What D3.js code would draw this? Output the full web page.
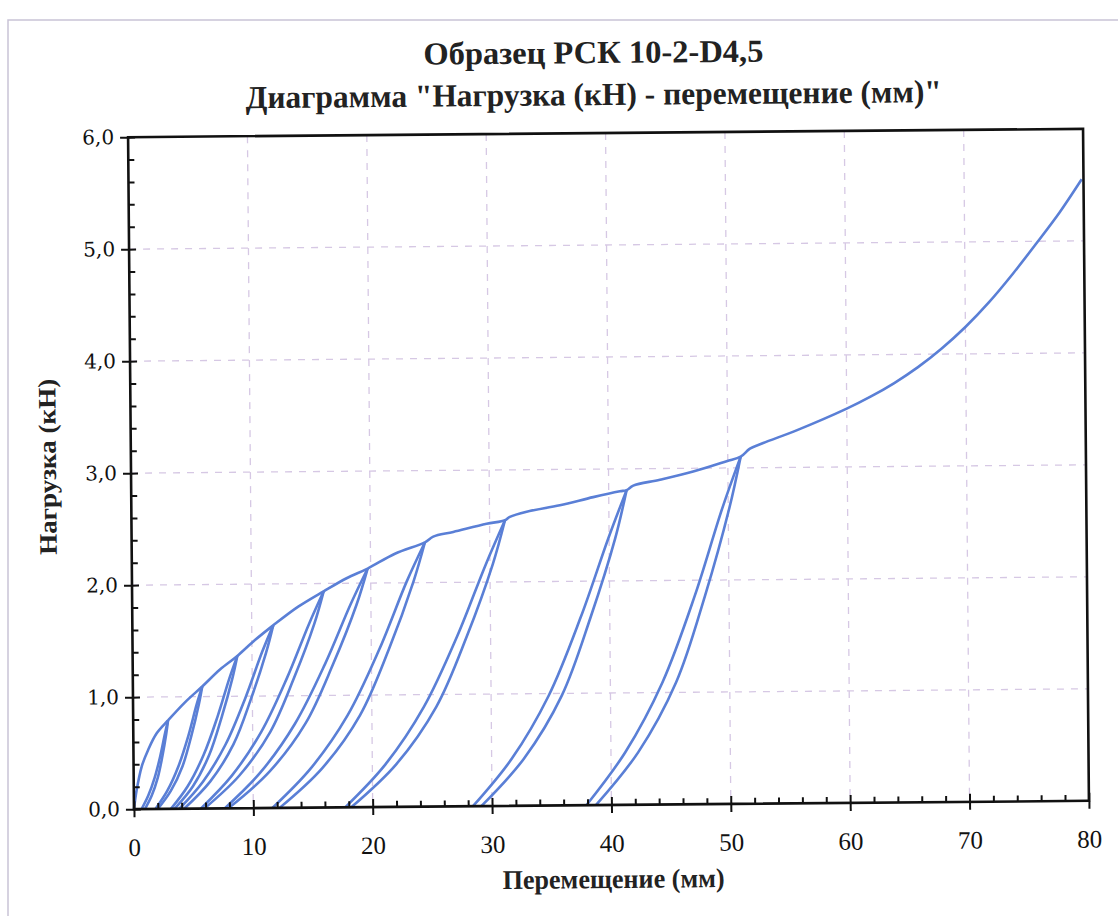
<!DOCTYPE html>
<html>
<head>
<meta charset="utf-8">
<script src="https://cdn.jsdelivr.net/npm/d3@7"></script>
<style>
  body { margin: 0; background: #fff; }
  svg { display: block; }
</style>
</head>
<body>
<svg width="1118" height="916"></svg>
<script>
const titleLines = ["Образец РСК 10-2-D4,5", "Диаграмма \"Нагрузка (кН) - перемещение (мм)\""];
const xLabel = "Перемещение (мм)";
const yLabel = "Нагрузка (кН)";
const xTicks = [0, 10, 20, 30, 40, 50, 60, 70, 80];
const yTicks = [0, 1, 2, 3, 4, 5, 6];

// envelope of the test (first loading and the parts between cycles)
const envelope = [
  [0, 0], [0.24, 0.17], [0.68, 0.38], [1.24, 0.53], [1.96, 0.675], [2.92, 0.79],
  [4.35, 0.95], [5.81, 1.09], [7.31, 1.24], [8.77, 1.36], [10.26, 1.5], [11.8, 1.63],
  [13.91, 1.795], [16.05, 1.93], [17.98, 2.045], [19.75, 2.13], [22.05, 2.26], [24.57, 2.36],
  [25.27, 2.41], [26.95, 2.45], [29.75, 2.52], [31.29, 2.55], [31.7, 2.58], [33.11, 2.625],
  [35.9, 2.68], [38.7, 2.75], [40.94, 2.8], [41.5, 2.81], [42.06, 2.85], [44.3, 2.9],
  [47.09, 2.97], [49.9, 3.06], [51.08, 3.1], [51.86, 3.17], [52.98, 3.22], [55.78, 3.33],
  [60, 3.52], [62, 3.625], [64, 3.745], [66, 3.885], [68, 4.05], [70, 4.24],
  [72, 4.46], [74, 4.71], [76, 4.98], [78, 5.26], [79.85, 5.55]
];

// unloading / reloading branches of each cycle (left and right side of every loop)
const loopLeft = [
  [[0.64, 0], [1.21, 0.12], [1.76, 0.28], [2.24, 0.47], [2.65, 0.67], [2.92, 0.79]],
  [[1.8, 0], [2.8, 0.16], [3.76, 0.38], [4.61, 0.65], [5.33, 0.93], [5.81, 1.09]],
  [[3.1, 0], [4.52, 0.2], [5.88, 0.48], [7.07, 0.82], [8.09, 1.16], [8.77, 1.36]],
  [[3.8, 0], [5.8, 0.24], [7.72, 0.57], [9.4, 0.98], [10.84, 1.39], [11.8, 1.63]],
  [[5.6, 0], [8.21, 0.29], [10.72, 0.68], [12.92, 1.16], [14.8, 1.64], [16.05, 1.93]],
  [[7.6, 0], [10.64, 0.32], [13.55, 0.75], [16.11, 1.28], [18.29, 1.81], [19.75, 2.13]],
  [[11.6, 0], [14.84, 0.35], [17.96, 0.82], [20.68, 1.41], [23.01, 2.01], [24.57, 2.36]],
  [[17.7, 0], [21.1, 0.38], [24.36, 0.89], [27.21, 1.52], [29.66, 2.16], [31.29, 2.55]],
  [[28.4, 0], [31.68, 0.42], [34.82, 0.98], [37.57, 1.68], [39.93, 2.38], [41.5, 2.81]],
  [[37.9, 0], [41.2, 0.47], [44.36, 1.09], [47.13, 1.86], [49.5, 2.64], [51.08, 3.1]]
];
const loopRight = [
  [[0.92, 0], [1.5, 0.12], [2.02, 0.28], [2.42, 0.47], [2.76, 0.67], [2.92, 0.79]],
  [[2.0, 0], [3.1, 0.16], [4.1, 0.38], [4.86, 0.65], [5.51, 0.93], [5.81, 1.09]],
  [[3.4, 0], [4.96, 0.2], [6.35, 0.48], [7.43, 0.82], [8.34, 1.16], [8.77, 1.36]],
  [[4.2, 0], [6.4, 0.24], [8.38, 0.57], [9.9, 0.98], [11.19, 1.39], [11.8, 1.63]],
  [[5.9, 0], [8.84, 0.29], [11.48, 0.68], [13.51, 1.16], [15.24, 1.64], [16.05, 1.93]],
  [[7.9, 0], [11.34, 0.32], [14.42, 0.75], [16.79, 1.28], [18.8, 1.81], [19.75, 2.13]],
  [[12.2, 0], [15.79, 0.35], [19.0, 0.82], [21.48, 1.41], [23.58, 2.01], [24.57, 2.36]],
  [[18.2, 0], [22.0, 0.38], [25.4, 0.89], [28.02, 1.52], [30.24, 2.16], [31.29, 2.55]],
  [[29.1, 0], [32.7, 0.42], [35.92, 0.98], [38.4, 1.68], [40.51, 2.38], [41.5, 2.81]],
  [[38.7, 0], [42.29, 0.47], [45.51, 1.09], [47.99, 1.86], [50.09, 2.64], [51.08, 3.1]]
];

const svg = d3.select("svg");
const plotLeft = 131, plotRight = 1086, plotTop = 133, plotBottom = 805;
const serif = "'Liberation Serif', 'Times New Roman', serif";

// light frame of the scanned page
svg.append("path")
  .attr("d", "M8,916 L8,20 L1118,20")
  .attr("fill", "none")
  .attr("stroke", "#c9c3d6")
  .attr("stroke-width", 1.5);

// the scan is a little tilted
const g = svg.append("g").attr("transform", "rotate(-0.5, 608, 469)");

const x = d3.scaleLinear().domain([0, 80]).range([plotLeft, plotRight]);
const y = d3.scaleLinear().domain([0, 6]).range([plotBottom, plotTop]);

// grid
const gridColor = "#d6c8e4";
g.append("g").selectAll("line")
  .data(xTicks.slice(1, -1))
  .enter().append("line")
  .attr("x1", d => x(d)).attr("x2", d => x(d))
  .attr("y1", plotTop).attr("y2", plotBottom)
  .attr("stroke", gridColor).attr("stroke-width", 1.3).attr("stroke-dasharray", "7,7");
g.append("g").selectAll("line")
  .data(yTicks.slice(1, -1))
  .enter().append("line")
  .attr("y1", d => y(d)).attr("y2", d => y(d))
  .attr("x1", plotLeft).attr("x2", plotRight)
  .attr("stroke", gridColor).attr("stroke-width", 1.3).attr("stroke-dasharray", "7,7");

// curves
const line = d3.line()
  .x(d => x(d[0]))
  .y(d => y(d[1]))
  .curve(d3.curveCatmullRom.alpha(0.5));

const curves = g.append("g")
  .attr("fill", "none")
  .attr("stroke", "#5a7fd6")
  .attr("stroke-width", 2.6)
  .attr("stroke-linejoin", "round");

loopLeft.concat(loopRight).forEach(branch => {
  curves.append("path").attr("d", line(branch));
});
curves.append("path").attr("d", line(envelope));

// axes
const xMinor = d3.range(0, 81, 2).filter(v => v % 10 !== 0);
const yMinor = d3.range(0, 6.01, 0.2).map(v => +v.toFixed(1)).filter(v => Math.abs(v - Math.round(v)) > 0.01);

const xAxis = g.append("g").attr("transform", `translate(0,${plotBottom})`)
  .call(d3.axisBottom(x).tickValues(xTicks).tickSize(8).tickPadding(21).tickFormat(d3.format("d")));
g.append("g").attr("transform", `translate(0,${plotBottom})`)
  .call(d3.axisBottom(x).tickValues(xTicks).tickSize(-8).tickFormat(""));
g.append("g").attr("transform", `translate(0,${plotBottom})`)
  .call(d3.axisBottom(x).tickValues(xMinor).tickSize(-6).tickFormat(""));

const yAxis = g.append("g").attr("transform", `translate(${plotLeft},0)`)
  .call(d3.axisLeft(y).tickValues(yTicks).tickSize(8).tickPadding(6)
    .tickFormat(d => d.toFixed(1).replace(".", ",")));
g.append("g").attr("transform", `translate(${plotLeft},0)`)
  .call(d3.axisLeft(y).tickValues(yTicks).tickSize(-7).tickFormat(""));
g.append("g").attr("transform", `translate(${plotLeft},0)`)
  .call(d3.axisLeft(y).tickValues(yMinor).tickSize(-6).tickFormat(""));

g.selectAll(".domain").remove();
g.selectAll(".tick line").attr("stroke", "#111").attr("stroke-width", 2);

xAxis.selectAll("text")
  .attr("font-family", serif)
  .attr("font-size", 25)
  .attr("fill", "#111");
yAxis.selectAll("text")
  .attr("font-family", "'DejaVu Serif', serif")
  .attr("font-size", 20)
  .attr("fill", "#111");

// plot border
g.append("rect")
  .attr("x", plotLeft).attr("y", plotTop)
  .attr("width", plotRight - plotLeft).attr("height", plotBottom - plotTop)
  .attr("fill", "none")
  .attr("stroke", "#111")
  .attr("stroke-width", 2.6);

// titles
const titleWidths = [340, 696];
g.selectAll(".title")
  .data(titleLines)
  .enter().append("text")
  .attr("class", "title")
  .attr("x", 597)
  .attr("y", (d, i) => 63 + i * 42)
  .attr("text-anchor", "middle")
  .attr("font-family", serif)
  .attr("font-weight", "bold")
  .attr("font-size", 32)
  .attr("fill", "#222")
  .attr("textLength", (d, i) => titleWidths[i])
  .attr("lengthAdjust", "spacingAndGlyphs")
  .text(d => d);

g.append("text")
  .attr("x", 610).attr("y", 888)
  .attr("text-anchor", "middle")
  .attr("font-family", serif)
  .attr("font-weight", "bold")
  .attr("font-size", 27)
  .attr("fill", "#222")
  .attr("textLength", 222)
  .attr("lengthAdjust", "spacingAndGlyphs")
  .text(xLabel);

g.append("text")
  .attr("transform", "translate(56,462) rotate(-90)")
  .attr("text-anchor", "middle")
  .attr("font-family", serif)
  .attr("font-weight", "bold")
  .attr("font-size", 25)
  .attr("fill", "#222")
  .attr("textLength", 176)
  .attr("lengthAdjust", "spacingAndGlyphs")
  .text(yLabel);
</script>
</body>
</html>
